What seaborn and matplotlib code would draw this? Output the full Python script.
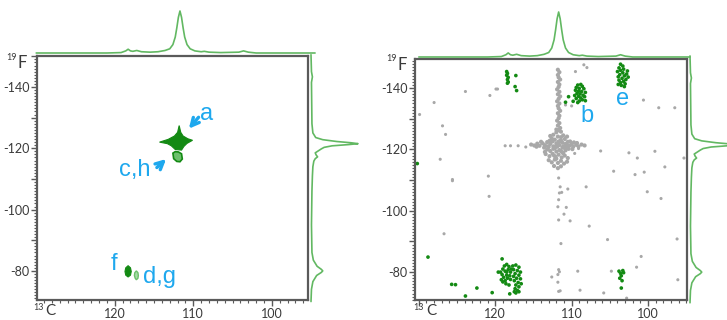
import numpy as np
import pandas as pd
import matplotlib
matplotlib.use("Agg")
import matplotlib.pyplot as plt
import seaborn as sns

# ---------------------------
# data (ppm)
# ---------------------------
x_ticks_major = [130, 120, 110, 100]
x_tick_labels = ["", "120", "110", "100"]
y_ticks_major = [-150, -140, -130, -120, -110, -100, -90, -80]
y_tick_labels = ["", "-140", "", "-120", "", "-100", "", "-80"]

# 1D projections (13C on top, 19F on the side)
top_ppm = [130, 121, 119.2, 118.6, 118.3, 118.0, 117.7, 117.2, 116.6, 115.5, 114.5,
           113.6, 113.0, 112.6, 112.3, 112.1, 111.9, 111.7, 111.5, 111.3, 111.1,
           110.8, 110.4, 109.8, 109.0, 108.6, 108.0, 106.5, 104.2, 103.6, 103.0, 102, 94.5]
top_int = [0, 0, 0.01, 0.05, 0.09, 0.05, 0.04, 0.06, 0.03, 0.02, 0.03,
           0.06, 0.1, 0.2, 0.38, 0.6, 0.85, 1.0, 0.85, 0.6, 0.38,
           0.2, 0.1, 0.05, 0.03, 0.04, 0.02, 0.01, 0.02, 0.05, 0.02, 0, 0]

side_ppm = [-150.5, -145, -143.3, -141.5, -128, -125, -123.5, -122.8, -122.2, -121.8,
            -121.5, -121.2, -120.8, -120.3, -119.8, -119.2, -118.5, -117.8, -117.2,
            -116.6, -115.8, -114, -111, -106, -95, -86, -83.5, -81.5, -80.5, -80,
            -79.5, -78.5, -76.5, -74, -70]
side_int = [0, 0.01, 0.03, 0.01, 0.02, 0.04, 0.1, 0.25, 0.55, 0.85,
            1.0, 0.8, 0.45, 0.28, 0.22, 0.16, 0.09, 0.11, 0.14,
            0.09, 0.06, 0.04, 0.03, 0.02, 0.01, 0.02, 0.05, 0.13, 0.22, 0.25,
            0.22, 0.12, 0.04, 0.01, 0]

# left spectrum: contour regions
star_x = [114.3, 113.2, 112.4, 112.0, 111.8, 111.6, 111.3, 110.7, 110.1, 110.8,
          111.2, 111.5, 112.3, 112.8, 113.3]
star_y = [-122.0, -122.9, -124.0, -125.2, -127.4, -125.2, -124.0, -123.1, -122.6, -121.6,
          -120.6, -119.4, -119.6, -120.8, -121.5]
ring_x = [112.6, 112.3, 111.9, 111.5, 111.4, 111.7, 112.1, 112.5]
ring_y = [-118.4, -118.9, -118.8, -118.2, -116.5, -115.6, -115.7, -116.6]
f_x = [118.3, 118.6, 118.7, 118.6, 118.3, 118.0, 117.9, 118.0]
f_y = [-81.7, -81.0, -79.8, -78.6, -78.0, -78.6, -79.8, -81.0]
dg_x = [117.25, 117.45, 117.5, 117.4, 117.25, 117.05, 117.0, 117.05]
dg_y = [-80.0, -79.4, -78.5, -77.6, -77.1, -77.6, -78.5, -79.4]

# right spectrum: gray peaks (central streak + blob)
blob_x = [111.8, 111.6, 111.8, 111.7, 111.5, 111.8, 111.6, 111.7, 111.9, 111.6, 111.8, 111.5,
          111.7, 111.9, 111.6, 111.8, 111.7, 111.5, 111.8, 111.6, 111.7, 111.9, 111.6, 111.8,
          111.5, 111.7, 112.0, 111.4, 112.4, 111.1,
          115.3, 114.9, 114.5, 114.2, 113.8, 113.5, 113.2, 113.0, 112.8, 112.5, 112.4, 112.2,
          112.0, 111.8, 111.6, 111.4, 111.2, 111.0, 110.8, 110.5, 110.3, 110.0, 109.7, 109.4,
          109.1, 108.7, 108.3,
          113.2, 112.8, 112.4, 112.0, 111.6, 111.2, 110.8, 110.4, 113.4, 112.9, 112.5, 112.1,
          111.7, 111.3, 110.9, 110.5, 113.0, 112.6, 112.2, 111.8, 111.4, 111.0, 110.6, 112.3,
          111.8, 111.4, 111.7, 112.6, 110.9, 111.7, 112.9, 110.6, 112.2, 111.2,
          114.6, 114.0, 113.6, 113.1, 112.7, 112.2, 111.9, 111.5, 111.1, 110.7, 110.2, 109.8,
          109.3, 112.0, 111.4, 112.8, 110.6, 113.5, 109.9, 112.3, 111.1, 112.0, 111.4]
blob_y = [-146.0, -145.2, -144.3, -143.5, -142.8, -142.0, -141.2, -140.4, -139.6, -138.8,
          -138.0, -137.3, -136.5, -135.7, -135.0, -134.2, -133.4, -132.6, -131.8, -131.0,
          -130.2, -129.4, -128.6, -127.8, -127.0, -126.3, -125.6, -125.8, -124.8, -124.6,
          -121.6, -121.3, -121.9, -121.2, -122.0, -121.4, -122.4, -120.8, -121.8, -122.6,
          -121.0, -123.2, -122.0, -124.2, -121.4, -123.0, -122.2, -120.6, -121.8, -122.5,
          -121.2, -121.8, -122.3, -121.5, -121.0, -121.6, -121.3,
          -120.0, -119.5, -120.2, -119.3, -119.8, -119.0, -119.7, -120.2, -118.5, -117.8,
          -118.6, -117.6, -118.3, -117.4, -118.0, -117.2, -116.5, -115.8, -116.7, -115.6,
          -116.3, -115.4, -116.0, -114.6, -113.9, -114.5, -122.6, -123.6, -123.4, -121.5,
          -122.8, -121.5, -120.9, -120.6,
          -120.9, -122.5, -120.6, -121.0, -123.0, -120.4, -120.9, -122.7, -121.0, -120.8,
          -122.6, -120.9, -122.1, -126.5, -124.0, -124.4, -124.2, -119.2, -120.1, -118.0,
          -118.8, -117.0, -119.5]

# right spectrum: isolated gray peaks
gray_x = [108.4, 108.0, 109.5, 123.9, 119.9, 119.7, 120.7, 128.0, 129.9, 126.9, 126.5, 127.2,
          118.7, 118.0, 117.0, 116.0, 110.0, 110.8, 100.6, 96.5, 98.6, 106.2, 102.5, 101.4,
          99.1, 95.3, 97.8, 100.5, 101.7, 104.5, 109.6, 109.1, 120.9, 125.6, 111.7,
          125.6, 120.8, 111.5, 111.3, 110.5, 111.6, 111.7, 111.8, 110.7, 111.0, 111.7, 110.2,
          108.1, 107.7, 100.1, 98.3, 126.7, 111.4, 105.3, 96.2, 100.9, 101.5, 104.8, 109.2,
          111.7, 111.6, 111.8, 112.6, 111.8, 111.7, 111.5, 108.9, 105.8, 102.8, 96.1]
gray_y = [-147.6, -146.7, -145.4, -138.9, -139.7, -139.7, -137.6, -135.3, -131.4, -127.7,
          -124.9, -116.8, -121.2, -121.2, -121.2, -120.8, -134.2, -134.5, -136.1, -133.6,
          -133.6, -119.5, -118.9, -117.2, -119.4, -117.2, -114.3, -112.6, -111.8, -112.9,
          -118.7, -120.3, -111.3, -110.2, -110.7,
          -109.8, -104.7, -107.8, -106.0, -107.1, -105.8, -103.6, -101.3, -101.1, -98.9,
          -97.0, -96.7, -107.8, -95.0, -106.2, -104.0, -92.5, -89.3, -90.6, -90.8, -85.1,
          -81.6, -80.3, -80.3, -80.8, -80.1, -79.2, -78.4, -76.7, -73.7, -73.9, -74.1,
          -73.2, -71.5, -77.5]

# right spectrum: green peaks
green_x = [118.5, 118.4, 118.5, 118.3, 118.4, 118.3, 118.4, 117.3, 117.4, 117.2,
           109.2, 108.8, 108.6, 109.4, 109.0, 108.4, 109.5, 109.1, 108.7, 108.2, 109.3, 108.9,
           108.5, 109.6, 109.1, 108.3, 108.8, 109.4, 108.6, 109.0, 108.2, 109.2, 110.4, 110.8,
           109.8,
           103.6, 103.3, 103.8, 103.2, 103.6, 104.0, 103.3, 102.8, 103.7, 103.1, 102.6, 103.9,
           103.4, 102.9, 103.8, 103.2, 103.6, 103.0, 103.5, 103.1, 103.9, 102.7,
           119.3, 119.0, 118.8, 118.5, 118.2, 117.9, 119.1, 118.7, 118.3, 118.0, 118.9, 118.5,
           118.1, 119.2, 118.7, 118.4, 118.0, 118.6, 118.2, 119.0, 118.5,
           117.7, 117.3, 116.9, 117.6, 117.1, 116.7, 117.4, 116.9, 117.6, 117.2, 116.7, 117.5,
           117.0, 116.6, 117.3, 116.9, 117.4, 117.1, 117.5, 116.9, 117.3,
           128.8, 119.1, 119.6, 125.7, 125.2, 122.4, 123.9, 120.4, 118.1, 130.2,
           103.8, 103.3, 103.6, 103.2, 103.5, 103.7, 103.4, 103.5]
green_y = [-145.4, -144.8, -144.2, -143.5, -142.8, -142.0, -141.6, -144.1, -140.5, -139.2,
           -141.0, -141.2, -140.6, -140.2, -139.9, -139.8, -139.3, -139.0, -138.9, -138.6,
           -138.3, -138.1, -137.7, -137.6, -137.3, -137.2, -136.8, -136.6, -136.2, -135.8,
           -135.9, -135.3, -137.2, -135.4, -135.7,
           -147.8, -147.2, -146.6, -146.2, -145.8, -145.4, -145.0, -144.6, -144.4, -144.0,
           -143.6, -143.7, -143.2, -142.8, -142.6, -142.2, -141.8, -141.4, -140.9, -140.5,
           -141.2, -145.6,
           -80.0, -81.0, -82.0, -82.5, -81.8, -81.0, -79.2, -80.3, -80.8, -80.0, -78.3, -79.0,
           -78.8, -77.5, -77.2, -78.0, -77.6, -76.2, -75.8, -76.8, -80.0,
           -82.0, -82.3, -81.6, -80.8, -80.5, -80.0, -79.5, -79.0, -78.6, -78.0, -77.8, -77.2,
           -76.6, -76.2, -75.8, -75.2, -74.6, -74.0, -73.6, -73.6, -73.2,
           -84.9, -84.3, -80.0, -76.0, -75.9, -74.8, -72.2, -73.3, -72.9, -115.4,
           -80.3, -80.5, -79.6, -79.8, -78.8, -78.0, -77.2, -74.8]

# peak labels
left_labels = ["a", "c,h", "f", "d,g"]
left_label_x = [109.1, 119.5, 120.5, 116.4]
left_label_y = [-129.2, -111.1, -80.2, -76.2]
right_labels = ["b", "e"]
right_label_x = [108.0, 103.3]
right_label_y = [-128.8, -134.5]

# ---------------------------
# style
# ---------------------------
sns.set_style("white")
plt.rcParams['font.family'] = ['Lato', 'DejaVu Sans']

GREEN = "#138a13"
LIGHT_GREEN = "#6cc06c"
PROJ = "#62b862"
GRAY = "#a8a8a8"
BLUE = "#1ea8ee"
SPINE = "#5a5a5a"
TXT = "#3a3a3a"

W, H = 727, 320
fig = plt.figure(figsize=(W / 100, H / 100), dpi=100)


def px(l, b, w, h):
    return [l / W, b / H, w / W, h / H]


def style_main(ax, xlim, ylim):
    ax.set_xticks(x_ticks_major)
    ax.set_xticklabels(x_tick_labels)
    ax.set_yticks(y_ticks_major)
    ax.set_yticklabels(y_tick_labels)
    ax.set_xticks(np.arange(95, 131, 1), minor=True)
    ax.set_yticks(np.arange(-150, -69, 1), minor=True)
    ax.set_xlim(*xlim)
    ax.set_ylim(*ylim)
    ax.tick_params(which='major', direction='out', length=4, width=1, color=SPINE,
                   labelsize=9, labelcolor=TXT, pad=1.5)
    ax.tick_params(which='minor', direction='out', length=2, width=0.8, color=SPINE)
    ax.tick_params(axis='x', which='both', bottom=True)
    ax.tick_params(axis='y', which='both', left=True)
    for s in ax.spines.values():
        s.set_color(SPINE)
        s.set_linewidth(1.6)
    ax.set_xlabel("")
    ax.set_ylabel("")


def top_proj(rect, xlim):
    ax = fig.add_axes(rect)
    sns.lineplot(x=top_ppm, y=top_int, sort=False, estimator=None, color=PROJ,
                 lw=1.2, ax=ax)
    ax.set_xlim(*xlim)
    ax.set_ylim(0, 1)
    ax.axis('off')
    for ln in ax.lines:
        ln.set_clip_on(False)


def side_proj(rect, ylim):
    ax = fig.add_axes(rect)
    sns.lineplot(x=side_int, y=side_ppm, sort=False, estimator=None, orient='y',
                 color=PROJ, lw=1.2, ax=ax)
    ax.set_xlim(0, 1)
    ax.set_ylim(*ylim)
    ax.axis('off')
    for ln in ax.lines:
        ln.set_clip_on(False)


def nucleus_labels(ax, fx, fy, cx, cy):
    ax.text(fx, fy, "F", transform=ax.transAxes, fontsize=12, color=TXT,
            ha='right', va='baseline')
    ax.text(fx - 0.037, fy + 0.035, "19", transform=ax.transAxes, fontsize=6.5,
            color=TXT, ha='right', va='baseline')
    ax.text(cx, cy, "C", transform=ax.transAxes, fontsize=11, color=TXT,
            ha='left', va='top')
    ax.text(cx - 0.006, cy + 0.004, "13", transform=ax.transAxes, fontsize=6.5,
            color=TXT, ha='right', va='top')


# ---------------------------
# left: 19F-13C spectrum
# ---------------------------
xl_left = (129.9, 95.4)
yl_left = (-70.5, -150.1)
ax1 = fig.add_axes(px(37, 20, 271, 244))
ax1.fill(star_x, star_y, color=GREEN, lw=0.8)
ax1.fill(ring_x, ring_y, facecolor=LIGHT_GREEN, edgecolor=GREEN, lw=1.2)
ax1.fill(f_x, f_y, facecolor=GREEN, edgecolor=GREEN, lw=0.8)
ax1.fill(dg_x, dg_y, facecolor="#a6dca6", edgecolor=LIGHT_GREEN, lw=1.0)
style_main(ax1, xl_left, yl_left)

for lab, lx, ly in zip(left_labels, left_label_x, left_label_y):
    ax1.text(lx, ly, lab, color=BLUE, fontsize=17, family=['Liberation Sans'],
             ha='left', va='baseline')

ax1.annotate("", xy=(110.8, -125.7), xytext=(109.1, -130.8),
             arrowprops=dict(arrowstyle='->', color=BLUE, lw=2.4, mutation_scale=14))
ax1.annotate("", xy=(113.2, -117.1), xytext=(114.9, -113.1),
             arrowprops=dict(arrowstyle='->', color=BLUE, lw=2.4, mutation_scale=14))

nucleus_labels(ax1, -0.038, 0.95, 0.03, -0.015)

top_proj(px(37, 320 - 53, 271, 42), xl_left)
side_proj(px(311, 20, 47, 244), yl_left)

# ---------------------------
# right: same spectrum with gray/green peaks
# ---------------------------
xl_right = (130.5, 94.9)
yl_right = (-70.9, -149.5)
ax2 = fig.add_axes(px(415, 20, 272, 241))
sns.scatterplot(x=blob_x, y=blob_y, color=GRAY, s=9, edgecolor='none', ax=ax2,
                legend=False)
sns.scatterplot(x=gray_x, y=gray_y, color=GRAY, s=5, edgecolor='none', ax=ax2,
                legend=False)
sns.scatterplot(x=green_x, y=green_y, color=GREEN, s=7, edgecolor='none', ax=ax2,
                legend=False)
style_main(ax2, xl_right, yl_right)

for lab, lx, ly in zip(right_labels, right_label_x, right_label_y):
    ax2.text(lx, ly, lab, color=BLUE, fontsize=17, family=['Liberation Sans'],
             ha='center', va='baseline')

nucleus_labels(ax2, -0.03, 0.955, 0.04, -0.015)

top_proj(px(415, 320 - 57, 272, 45), xl_right)
side_proj(px(690, 20, 47, 241), yl_right)

fig.savefig("out.png", dpi=100)
